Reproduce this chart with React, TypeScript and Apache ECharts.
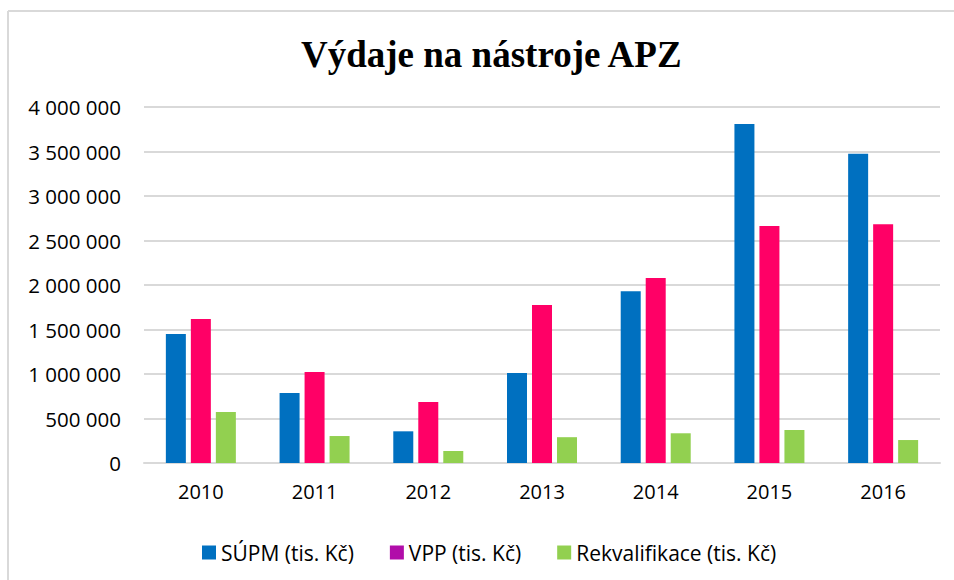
import React, { useEffect, useRef } from "react";
import * as echarts from "echarts";

const years = ["2010", "2011", "2012", "2013", "2014", "2015", "2016"];
const supm = [1450000, 787000, 356000, 1010000, 1930000, 3810000, 3475000];
const vpp = [1618000, 1022000, 685000, 1775000, 2080000, 2663000, 2682000];
const rekval = [573000, 303000, 135000, 290000, 334000, 371000, 258000];
const seriesNames = ["SÚPM (tis. Kč)", "VPP (tis. Kč)", "Rekvalifikace (tis. Kč)"];
const barColors = ["#0070C0", "#FF0066", "#92D050"];
const legendColors = ["#0070C0", "#B10DA9", "#92D050"];
const title = "Výdaje na nástroje APZ";

const fmt = (v: number) => String(v).replace(/\B(?=(\d{3})+(?!\d))/g, " ");

export default function App() {
  const ref = useRef<HTMLDivElement>(null);
  useEffect(() => {
    if (!ref.current) return;
    const chart = echarts.init(ref.current, null, { renderer: "svg" });
    const font = "'Open Sans', 'Noto Sans', sans-serif";
    const data = [supm, vpp, rekval];
    chart.setOption({
      animation: false,
      backgroundColor: "#ffffff",
      title: {
        text: title,
        left: 296,
        top: 31,
        textStyle: {
          fontFamily: "'Liberation Serif', serif",
          fontWeight: "bold",
          fontSize: 37,
          color: "#000",
        },
      },
      graphic: [
        { type: "line", shape: { x1: 8, y1: 11, x2: 954, y2: 11 }, style: { stroke: "#d9d9d9", lineWidth: 2 } },
        { type: "line", shape: { x1: 8, y1: 11, x2: 8, y2: 580 }, style: { stroke: "#d9d9d9", lineWidth: 2 } },
      ],
      legend: {
        top: 537,
        left: 197,
        itemWidth: 14,
        itemHeight: 14,
        itemGap: 36,
        icon: "rect",
        textStyle: { fontFamily: font, fontSize: 21, color: "#000" },
        data: seriesNames.map((n, i) => ({ name: n, itemStyle: { color: legendColors[i] } })),
      },
      grid: { left: 144, right: 14, top: 107, bottom: 117 },
      xAxis: {
        type: "category",
        data: years,
        axisLine: { lineStyle: { color: "#d9d9d9", width: 2 } },
        axisTick: { show: false },
        axisLabel: { fontFamily: font, fontSize: 20, color: "#000", margin: 18 },
      },
      yAxis: {
        type: "value",
        min: 0,
        max: 4000000,
        interval: 500000,
        axisLine: { show: false },
        axisTick: { show: false },
        splitLine: { lineStyle: { color: "#d9d9d9", width: 2 } },
        axisLabel: { fontFamily: font, fontSize: 20.5, color: "#000", margin: 23, formatter: (v: number) => fmt(v) },
      },
      series: seriesNames.map((n, i) => ({
        name: n,
        type: "bar",
        data: data[i],
        barWidth: 20,
        barGap: "25%",
        itemStyle: { color: barColors[i] },
      })),
    });
    return () => chart.dispose();
  }, []);
  return (
    <div
      ref={ref}
      style={{ position: "absolute", left: 0, top: 0, width: 954, height: 580 }}
    />
  );
}
